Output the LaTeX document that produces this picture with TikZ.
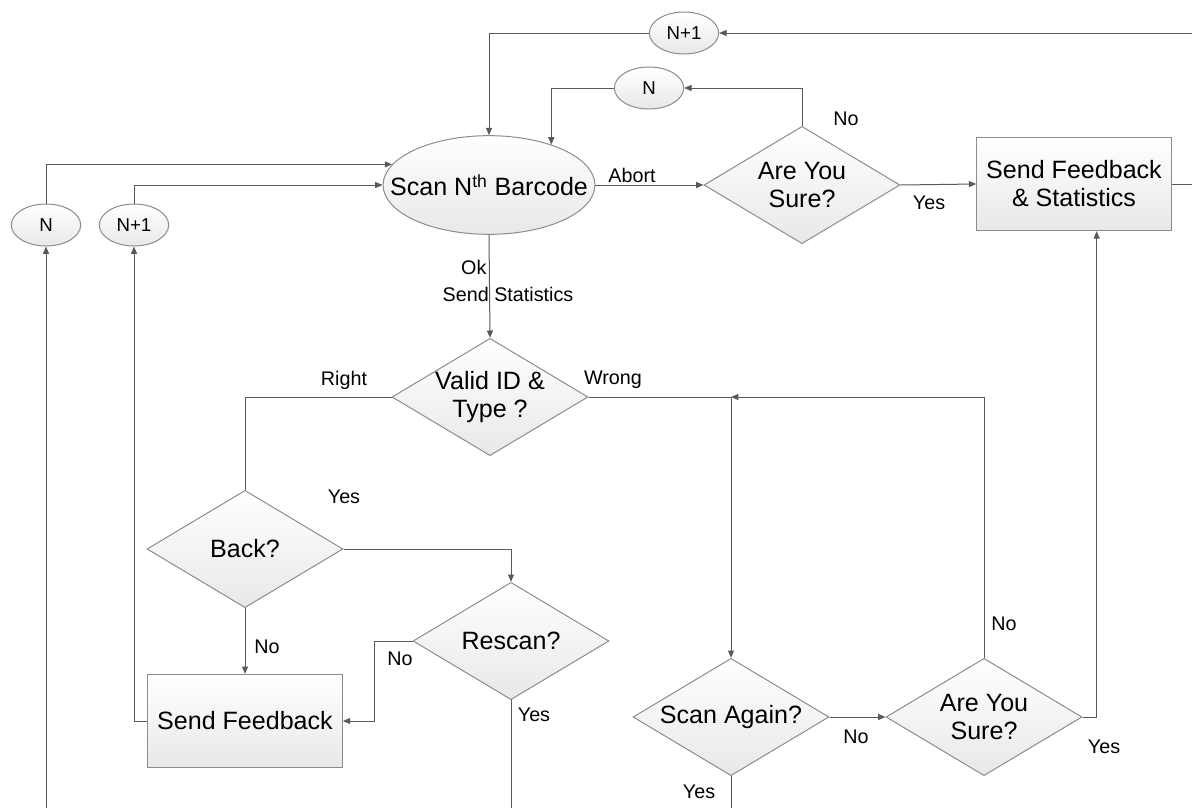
\documentclass[tikz,border=0pt]{standalone}
\usepackage{fontspec}
\setmainfont{Liberation Sans}
\usetikzlibrary{shapes.geometric,arrows.meta}

\begin{document}
\begin{tikzpicture}[
  x=0.75pt, y=-0.75pt,
  shadebox/.style={draw=black!45, line width=0.75pt, top color=white, bottom color=black!9, text=black, inner sep=0pt, align=center, font=\fontsize{18.8}{21}\selectfont},
  terminal/.style={shadebox, ellipse, inner xsep=-18pt, minimum width=155pt, minimum height=74pt},
  decision/.style={shadebox, diamond, aspect=1.68, inner sep=-4pt, minimum width=147pt, minimum height=88pt},
  process/.style={shadebox, rectangle, minimum width=146pt, minimum height=70pt},
  jump/.style={shadebox, ellipse, minimum width=52pt, minimum height=31.5pt, font=\fontsize{14}{16}\selectfont},
  lbl/.style={inner sep=1pt, font=\fontsize{14.8}{17}\selectfont},
  link/.style={draw=black!65, line width=0.75pt},
  arr/.style={link, -{Triangle[length=5.5pt, width=4.5pt]}}
]
  \path[use as bounding box, clip] (0,0) rectangle (1192,807);

  % Scan
  \node[terminal] (scan) at (489,185) {Scan N\textsuperscript{th} Barcode};

  % Abort branch
  \node[decision] (sure) at (802,185) {Are You\\Sure?};
  \node[process] (fbstat) at (1074,184) {Send Feedback\\\& Statistics};

  % Jump ovals
  \node[jump] (np1Top) at (684,33) {N+1};
  \node[jump] (nTop) at (649,88) {N};
  \node[jump] (nLeft) at (46,225) {N};
  \node[jump] (np1Left) at (134,225) {N+1};

  % Checks
  \node[decision] (valid) at (490,397) {Valid ID \&\\Type ?};
  \node[decision] (back) at (245,549) {Back?};
  \node[decision] (rescan) at (511,641) {Rescan?};
  \node[process] (fb) at (245,721) {Send Feedback};
  \node[decision] (again) at (731,717) {Scan Again?};
  \node[decision] (sureTwo) at (984,717) {Are You\\Sure?};

  % Loose ends and joins
  \coordinate (wrongJoin) at (again.north |- valid.east);
  \coordinate (offLeft) at (46,830);
  \coordinate (offRescan) at (511,830);
  \coordinate (offAgain) at (731,830);
  \coordinate (offRight) at (1215,100);

  % Labels
  \node[lbl, anchor=east] (okLbl) at (488,267) {Ok};
  \node[lbl] (statLbl) at (508,294) {Send Statistics};
  \node[lbl] (abortLbl) at (632,175) {Abort};
  \node[lbl] (sureNo) at (846,119) {No};
  \node[lbl] (sureYes) at (929,203) {Yes};
  \node[lbl] (rightLbl) at (344,380) {Right};
  \node[lbl] (wrongLbl) at (613,380) {Wrong};
  \node[lbl] (backYes) at (344,497) {Yes};
  \node[lbl] (backNo) at (267,647) {No};
  \node[lbl] (rescanNo) at (400,659) {No};
  \node[lbl] (rescanYes) at (534,715) {Yes};
  \node[lbl] (againNo) at (856,737) {No};
  \node[lbl] (againYes) at (699,792) {Yes};
  \node[lbl] (sureTwoNo) at (1004,624) {No};
  \node[lbl] (sureTwoYes) at (1104,747) {Yes};

  % Back into scan
  \draw[arr] (np1Top.west) -| (scan.north);
  \draw[arr] (nTop.west) -| (scan.33);
  \draw[arr] (nLeft.north) |- (scan.168);
  \draw[arr] (np1Left.north) |- (scan.west);
  \draw[arr] (offLeft) -- (nLeft.south);
  \draw[arr] (fb.west) -| (np1Left.south);

  % Abort
  \draw[arr] (scan.east) -- (sure.west);
  \draw[arr] (sure.east) -- (fbstat.west);
  \draw[arr] (sure.north) |- (nTop.east);
  \draw[arr] (fbstat.east) -| (offRight) |- (np1Top.east);

  % Ok
  \draw[arr] (scan.south) -- (valid.north);
  \draw[link] (valid.west) -| (back.north);
  \draw[arr] (back.east) -| (rescan.north);
  \draw[arr] (back.south) -- (fb.north);
  \draw[arr] (rescan.west) -- ++(-38,0) |- (fb.east);
  \draw[link] (rescan.south) -- (offRescan);

  % Wrong
  \draw[link] (valid.east) -- (wrongJoin);
  \draw[arr] (wrongJoin) -- (again.north);
  \draw[arr] (again.east) -- (sureTwo.west);
  \draw[arr] (sureTwo.north) |- (wrongJoin);
  \draw[arr] (sureTwo.east) -| ([xshift=17pt]fbstat.south);
  \draw[link] (again.south) -- (offAgain);
\end{tikzpicture}
\end{document}
